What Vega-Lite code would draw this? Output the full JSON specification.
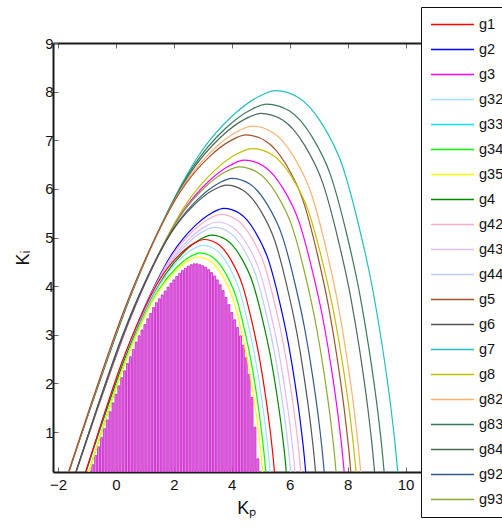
{
"$schema":"https://vega.github.io/schema/vega-lite/v6.json",
"autosize":{"type":"none"},
"padding":{"left":53,"top":43,"right":63,"bottom":57},
"width":386.5,
"height":429,
"config":{"view":{"stroke":null},"font":"Liberation Sans",
"axis":{"grid":false,"domainColor":"#1a1a1a","domainWidth":2,"tickColor":"#666","tickWidth":1,"tickSize":-5,"labelFontSize":15,"labelColor":"#111","titleFontSize":18,"titleFontWeight":"normal","titleColor":"#111"}},
"datasets":{
"bars":[
{"kp":-0.9,"ki":0.2},{"kp":-0.8,"ki":0.33},{"kp":-0.7,"ki":0.52},{"kp":-0.6,"ki":0.7},{"kp":-0.5,"ki":0.89},{"kp":-0.4,"ki":1.07},{"kp":-0.3,"ki":1.25},{"kp":-0.2,"ki":1.42},{"kp":-0.1,"ki":1.6},{"kp":0,"ki":1.78},{"kp":0.1,"ki":1.95},{"kp":0.2,"ki":2.12},{"kp":0.3,"ki":2.26},{"kp":0.4,"ki":2.41},{"kp":0.5,"ki":2.55},{"kp":0.6,"ki":2.7},{"kp":0.7,"ki":2.85},{"kp":0.8,"ki":2.98},{"kp":0.9,"ki":3.1},{"kp":1.0,"ki":3.21},{"kp":1.1,"ki":3.33},{"kp":1.2,"ki":3.44},{"kp":1.3,"ki":3.56},{"kp":1.4,"ki":3.66},{"kp":1.5,"ki":3.74},{"kp":1.6,"ki":3.82},{"kp":1.7,"ki":3.9},{"kp":1.8,"ki":3.98},{"kp":1.9,"ki":4.06},{"kp":2.0,"ki":4.13},{"kp":2.1,"ki":4.2},{"kp":2.2,"ki":4.26},{"kp":2.3,"ki":4.32},{"kp":2.4,"ki":4.37},{"kp":2.5,"ki":4.41},{"kp":2.6,"ki":4.44},{"kp":2.7,"ki":4.46},{"kp":2.8,"ki":4.46},{"kp":2.9,"ki":4.44},{"kp":3.0,"ki":4.42},{"kp":3.1,"ki":4.39},{"kp":3.2,"ki":4.34},{"kp":3.3,"ki":4.28},{"kp":3.4,"ki":4.21},{"kp":3.5,"ki":4.13},{"kp":3.6,"ki":4.03},{"kp":3.7,"ki":3.91},{"kp":3.8,"ki":3.77},{"kp":3.9,"ki":3.62},{"kp":4.0,"ki":3.46},{"kp":4.1,"ki":3.31},{"kp":4.2,"ki":3.15},{"kp":4.3,"ki":2.98},{"kp":4.4,"ki":2.79},{"kp":4.5,"ki":2.53},{"kp":4.6,"ki":2.19},{"kp":4.7,"ki":1.71},{"kp":4.8,"ki":1.1},{"kp":4.9,"ki":0.45}
],
"curves":[
{"s":"g7","kp":-1.73,"ki":0},{"s":"g7","kp":-0.581,"ki":2.005},{"s":"g7","kp":0.568,"ki":3.89},{"s":"g7","kp":1.717,"ki":5.454},{"s":"g7","kp":2.866,"ki":6.697},{"s":"g7","kp":4.015,"ki":7.499},{"s":"g7","kp":4.934,"ki":7.9},{"s":"g7","kp":5.509,"ki":8.02},{"s":"g7","kp":6.313,"ki":7.876},{"s":"g7","kp":7.117,"ki":7.338},{"s":"g7","kp":7.807,"ki":6.496},{"s":"g7","kp":8.381,"ki":5.253},{"s":"g7","kp":8.841,"ki":4.01},{"s":"g7","kp":9.186,"ki":2.807},{"s":"g7","kp":9.473,"ki":1.604},{"s":"g7","kp":9.645,"ki":0.722},{"s":"g7","kp":9.76,"ki":0},
{"s":"g83","kp":-1.73,"ki":0},{"s":"g83","kp":-0.628,"ki":1.936},{"s":"g83","kp":0.474,"ki":3.756},{"s":"g83","kp":1.576,"ki":5.267},{"s":"g83","kp":2.678,"ki":6.467},{"s":"g83","kp":3.78,"ki":7.242},{"s":"g83","kp":4.662,"ki":7.629},{"s":"g83","kp":5.213,"ki":7.745},{"s":"g83","kp":5.984,"ki":7.606},{"s":"g83","kp":6.755,"ki":7.087},{"s":"g83","kp":7.417,"ki":6.273},{"s":"g83","kp":7.968,"ki":5.073},{"s":"g83","kp":8.408,"ki":3.873},{"s":"g83","kp":8.739,"ki":2.711},{"s":"g83","kp":9.015,"ki":1.549},{"s":"g83","kp":9.18,"ki":0.697},{"s":"g83","kp":9.29,"ki":0},
{"s":"g84","kp":-1.73,"ki":0},{"s":"g84","kp":-0.661,"ki":1.888},{"s":"g84","kp":0.408,"ki":3.663},{"s":"g84","kp":1.477,"ki":5.136},{"s":"g84","kp":2.546,"ki":6.307},{"s":"g84","kp":3.615,"ki":7.062},{"s":"g84","kp":4.47,"ki":7.44},{"s":"g84","kp":5.005,"ki":7.553},{"s":"g84","kp":5.753,"ki":7.417},{"s":"g84","kp":6.501,"ki":6.911},{"s":"g84","kp":7.143,"ki":6.118},{"s":"g84","kp":7.677,"ki":4.947},{"s":"g84","kp":8.105,"ki":3.777},{"s":"g84","kp":8.426,"ki":2.644},{"s":"g84","kp":8.693,"ki":1.511},{"s":"g84","kp":8.853,"ki":0.68},{"s":"g84","kp":8.96,"ki":0},
{"s":"g82","kp":-1.73,"ki":0},{"s":"g82","kp":-0.709,"ki":1.823},{"s":"g82","kp":0.312,"ki":3.536},{"s":"g82","kp":1.333,"ki":4.957},{"s":"g82","kp":2.354,"ki":6.087},{"s":"g82","kp":3.375,"ki":6.816},{"s":"g82","kp":4.192,"ki":7.181},{"s":"g82","kp":4.702,"ki":7.29},{"s":"g82","kp":5.417,"ki":7.159},{"s":"g82","kp":6.132,"ki":6.67},{"s":"g82","kp":6.744,"ki":5.905},{"s":"g82","kp":7.255,"ki":4.775},{"s":"g82","kp":7.663,"ki":3.645},{"s":"g82","kp":7.97,"ki":2.552},{"s":"g82","kp":8.225,"ki":1.458},{"s":"g82","kp":8.378,"ki":0.656},{"s":"g82","kp":8.48,"ki":0},
{"s":"g5","kp":-1.73,"ki":0},{"s":"g5","kp":-0.743,"ki":1.778},{"s":"g5","kp":0.244,"ki":3.448},{"s":"g5","kp":1.231,"ki":4.835},{"s":"g5","kp":2.218,"ki":5.937},{"s":"g5","kp":3.205,"ki":6.648},{"s":"g5","kp":3.995,"ki":7.003},{"s":"g5","kp":4.488,"ki":7.11},{"s":"g5","kp":5.179,"ki":6.982},{"s":"g5","kp":5.87,"ki":6.506},{"s":"g5","kp":6.462,"ki":5.759},{"s":"g5","kp":6.956,"ki":4.657},{"s":"g5","kp":7.35,"ki":3.555},{"s":"g5","kp":7.647,"ki":2.489},{"s":"g5","kp":7.893,"ki":1.422},{"s":"g5","kp":8.041,"ki":0.64},{"s":"g5","kp":8.14,"ki":0},
{"s":"g8","kp":-1.48,"ki":0},{"s":"g8","kp":-0.5,"ki":1.708},{"s":"g8","kp":0.48,"ki":3.313},{"s":"g8","kp":1.46,"ki":4.644},{"s":"g8","kp":2.44,"ki":5.703},{"s":"g8","kp":3.42,"ki":6.386},{"s":"g8","kp":4.204,"ki":6.728},{"s":"g8","kp":4.694,"ki":6.83},{"s":"g8","kp":5.38,"ki":6.707},{"s":"g8","kp":6.066,"ki":6.249},{"s":"g8","kp":6.654,"ki":5.532},{"s":"g8","kp":7.144,"ki":4.474},{"s":"g8","kp":7.536,"ki":3.415},{"s":"g8","kp":7.83,"ki":2.391},{"s":"g8","kp":8.075,"ki":1.366},{"s":"g8","kp":8.222,"ki":0.615},{"s":"g8","kp":8.32,"ki":0},
{"s":"g3","kp":-1.48,"ki":0},{"s":"g3","kp":-0.541,"ki":1.648},{"s":"g3","kp":0.398,"ki":3.196},{"s":"g3","kp":1.337,"ki":4.481},{"s":"g3","kp":2.276,"ki":5.503},{"s":"g3","kp":3.215,"ki":6.162},{"s":"g3","kp":3.966,"ki":6.491},{"s":"g3","kp":4.436,"ki":6.59},{"s":"g3","kp":5.093,"ki":6.471},{"s":"g3","kp":5.75,"ki":6.03},{"s":"g3","kp":6.314,"ki":5.338},{"s":"g3","kp":6.783,"ki":4.316},{"s":"g3","kp":7.159,"ki":3.295},{"s":"g3","kp":7.441,"ki":2.307},{"s":"g3","kp":7.675,"ki":1.318},{"s":"g3","kp":7.816,"ki":0.593},{"s":"g3","kp":7.91,"ki":0},
{"s":"g93","kp":-1.48,"ki":0},{"s":"g93","kp":-0.569,"ki":1.614},{"s":"g93","kp":0.342,"ki":3.131},{"s":"g93","kp":1.253,"ki":4.389},{"s":"g93","kp":2.164,"ki":5.39},{"s":"g93","kp":3.075,"ki":6.035},{"s":"g93","kp":3.804,"ki":6.358},{"s":"g93","kp":4.259,"ki":6.455},{"s":"g93","kp":4.897,"ki":6.339},{"s":"g93","kp":5.535,"ki":5.906},{"s":"g93","kp":6.081,"ki":5.229},{"s":"g93","kp":6.537,"ki":4.228},{"s":"g93","kp":6.901,"ki":3.228},{"s":"g93","kp":7.175,"ki":2.259},{"s":"g93","kp":7.402,"ki":1.291},{"s":"g93","kp":7.539,"ki":0.581},{"s":"g93","kp":7.63,"ki":0},
{"s":"g92","kp":-1.48,"ki":0},{"s":"g92","kp":-0.61,"ki":1.554},{"s":"g92","kp":0.26,"ki":3.015},{"s":"g92","kp":1.13,"ki":4.227},{"s":"g92","kp":2.0,"ki":5.19},{"s":"g92","kp":2.87,"ki":5.812},{"s":"g92","kp":3.566,"ki":6.123},{"s":"g92","kp":4.001,"ki":6.216},{"s":"g92","kp":4.61,"ki":6.104},{"s":"g92","kp":5.219,"ki":5.688},{"s":"g92","kp":5.741,"ki":5.035},{"s":"g92","kp":6.176,"ki":4.071},{"s":"g92","kp":6.524,"ki":3.108},{"s":"g92","kp":6.785,"ki":2.176},{"s":"g92","kp":7.003,"ki":1.243},{"s":"g92","kp":7.133,"ki":0.559},{"s":"g92","kp":7.22,"ki":0},
{"s":"g6","kp":-1.48,"ki":0},{"s":"g6","kp":-0.64,"ki":1.52},{"s":"g6","kp":0.2,"ki":2.948},{"s":"g6","kp":1.04,"ki":4.133},{"s":"g6","kp":1.88,"ki":5.075},{"s":"g6","kp":2.72,"ki":5.683},{"s":"g6","kp":3.392,"ki":5.987},{"s":"g6","kp":3.812,"ki":6.078},{"s":"g6","kp":4.4,"ki":5.969},{"s":"g6","kp":4.988,"ki":5.561},{"s":"g6","kp":5.492,"ki":4.923},{"s":"g6","kp":5.912,"ki":3.981},{"s":"g6","kp":6.248,"ki":3.039},{"s":"g6","kp":6.5,"ki":2.127},{"s":"g6","kp":6.71,"ki":1.216},{"s":"g6","kp":6.836,"ki":0.547},{"s":"g6","kp":6.92,"ki":0},
{"s":"g2","kp":-1.14,"ki":0},{"s":"g2","kp":-0.368,"ki":1.4},{"s":"g2","kp":0.404,"ki":2.716},{"s":"g2","kp":1.176,"ki":3.808},{"s":"g2","kp":1.948,"ki":4.676},{"s":"g2","kp":2.72,"ki":5.236},{"s":"g2","kp":3.338,"ki":5.516},{"s":"g2","kp":3.724,"ki":5.6},{"s":"g2","kp":4.264,"ki":5.499},{"s":"g2","kp":4.804,"ki":5.124},{"s":"g2","kp":5.268,"ki":4.536},{"s":"g2","kp":5.654,"ki":3.668},{"s":"g2","kp":5.962,"ki":2.8},{"s":"g2","kp":6.194,"ki":1.96},{"s":"g2","kp":6.387,"ki":1.12},{"s":"g2","kp":6.503,"ki":0.504},{"s":"g2","kp":6.58,"ki":0},
{"s":"g42","kp":-1.14,"ki":0},{"s":"g42","kp":-0.385,"ki":1.369},{"s":"g42","kp":0.37,"ki":2.655},{"s":"g42","kp":1.125,"ki":3.723},{"s":"g42","kp":1.88,"ki":4.572},{"s":"g42","kp":2.635,"ki":5.119},{"s":"g42","kp":3.239,"ki":5.393},{"s":"g42","kp":3.617,"ki":5.475},{"s":"g42","kp":4.145,"ki":5.376},{"s":"g42","kp":4.674,"ki":5.01},{"s":"g42","kp":5.127,"ki":4.435},{"s":"g42","kp":5.504,"ki":3.586},{"s":"g42","kp":5.806,"ki":2.738},{"s":"g42","kp":6.033,"ki":1.916},{"s":"g42","kp":6.221,"ki":1.095},{"s":"g42","kp":6.335,"ki":0.493},{"s":"g42","kp":6.41,"ki":0},
{"s":"g43","kp":-1.14,"ki":0},{"s":"g43","kp":-0.405,"ki":1.33},{"s":"g43","kp":0.33,"ki":2.58},{"s":"g43","kp":1.065,"ki":3.618},{"s":"g43","kp":1.8,"ki":4.442},{"s":"g43","kp":2.535,"ki":4.974},{"s":"g43","kp":3.123,"ki":5.24},{"s":"g43","kp":3.491,"ki":5.32},{"s":"g43","kp":4.005,"ki":5.224},{"s":"g43","kp":4.52,"ki":4.868},{"s":"g43","kp":4.961,"ki":4.309},{"s":"g43","kp":5.328,"ki":3.485},{"s":"g43","kp":5.622,"ki":2.66},{"s":"g43","kp":5.843,"ki":1.862},{"s":"g43","kp":6.026,"ki":1.064},{"s":"g43","kp":6.137,"ki":0.479},{"s":"g43","kp":6.21,"ki":0},
{"s":"g44","kp":-1.14,"ki":0},{"s":"g44","kp":-0.42,"ki":1.303},{"s":"g44","kp":0.3,"ki":2.527},{"s":"g44","kp":1.02,"ki":3.543},{"s":"g44","kp":1.74,"ki":4.35},{"s":"g44","kp":2.46,"ki":4.871},{"s":"g44","kp":3.036,"ki":5.132},{"s":"g44","kp":3.396,"ki":5.21},{"s":"g44","kp":3.9,"ki":5.116},{"s":"g44","kp":4.404,"ki":4.767},{"s":"g44","kp":4.836,"ki":4.22},{"s":"g44","kp":5.196,"ki":3.413},{"s":"g44","kp":5.484,"ki":2.605},{"s":"g44","kp":5.7,"ki":1.824},{"s":"g44","kp":5.88,"ki":1.042},{"s":"g44","kp":5.988,"ki":0.469},{"s":"g44","kp":6.06,"ki":0},
{"s":"g4","kp":-1.14,"ki":0},{"s":"g4","kp":-0.435,"ki":1.263},{"s":"g4","kp":0.27,"ki":2.449},{"s":"g4","kp":0.975,"ki":3.434},{"s":"g4","kp":1.68,"ki":4.217},{"s":"g4","kp":2.385,"ki":4.722},{"s":"g4","kp":2.949,"ki":4.974},{"s":"g4","kp":3.302,"ki":5.05},{"s":"g4","kp":3.795,"ki":4.959},{"s":"g4","kp":4.289,"ki":4.621},{"s":"g4","kp":4.712,"ki":4.091},{"s":"g4","kp":5.064,"ki":3.308},{"s":"g4","kp":5.346,"ki":2.525},{"s":"g4","kp":5.558,"ki":1.768},{"s":"g4","kp":5.734,"ki":1.01},{"s":"g4","kp":5.84,"ki":0.455},{"s":"g4","kp":5.91,"ki":0},
{"s":"g1","kp":-1.14,"ki":0},{"s":"g1","kp":-0.476,"ki":1.24},{"s":"g1","kp":0.188,"ki":2.406},{"s":"g1","kp":0.852,"ki":3.373},{"s":"g1","kp":1.516,"ki":4.142},{"s":"g1","kp":2.18,"ki":4.638},{"s":"g1","kp":2.711,"ki":4.886},{"s":"g1","kp":3.043,"ki":4.96},{"s":"g1","kp":3.508,"ki":4.871},{"s":"g1","kp":3.973,"ki":4.538},{"s":"g1","kp":4.371,"ki":4.018},{"s":"g1","kp":4.703,"ki":3.249},{"s":"g1","kp":4.969,"ki":2.48},{"s":"g1","kp":5.168,"ki":1.736},{"s":"g1","kp":5.334,"ki":0.992},{"s":"g1","kp":5.434,"ki":0.446},{"s":"g1","kp":5.5,"ki":0},
{"s":"g32","kp":-1.03,"ki":0},{"s":"g32","kp":-0.392,"ki":1.21},{"s":"g32","kp":0.246,"ki":2.347},{"s":"g32","kp":0.884,"ki":3.291},{"s":"g32","kp":1.522,"ki":4.041},{"s":"g32","kp":2.16,"ki":4.525},{"s":"g32","kp":2.67,"ki":4.767},{"s":"g32","kp":2.989,"ki":4.84},{"s":"g32","kp":3.436,"ki":4.753},{"s":"g32","kp":3.883,"ki":4.429},{"s":"g32","kp":4.265,"ki":3.92},{"s":"g32","kp":4.584,"ki":3.17},{"s":"g32","kp":4.84,"ki":2.42},{"s":"g32","kp":5.031,"ki":1.694},{"s":"g32","kp":5.191,"ki":0.968},{"s":"g32","kp":5.286,"ki":0.436},{"s":"g32","kp":5.35,"ki":0},
{"s":"g34","kp":-1.03,"ki":0},{"s":"g34","kp":-0.407,"ki":1.171},{"s":"g34","kp":0.216,"ki":2.272},{"s":"g34","kp":0.839,"ki":3.186},{"s":"g34","kp":1.462,"ki":3.912},{"s":"g34","kp":2.085,"ki":4.38},{"s":"g34","kp":2.583,"ki":4.615},{"s":"g34","kp":2.895,"ki":4.685},{"s":"g34","kp":3.331,"ki":4.601},{"s":"g34","kp":3.767,"ki":4.287},{"s":"g34","kp":4.141,"ki":3.795},{"s":"g34","kp":4.452,"ki":3.069},{"s":"g34","kp":4.702,"ki":2.343},{"s":"g34","kp":4.889,"ki":1.64},{"s":"g34","kp":5.044,"ki":0.937},{"s":"g34","kp":5.138,"ki":0.422},{"s":"g34","kp":5.2,"ki":0},
{"s":"g35","kp":-1.03,"ki":0},{"s":"g35","kp":-0.418,"ki":1.15},{"s":"g35","kp":0.194,"ki":2.231},{"s":"g35","kp":0.806,"ki":3.128},{"s":"g35","kp":1.418,"ki":3.841},{"s":"g35","kp":2.03,"ki":4.301},{"s":"g35","kp":2.52,"ki":4.531},{"s":"g35","kp":2.826,"ki":4.6},{"s":"g35","kp":3.254,"ki":4.517},{"s":"g35","kp":3.682,"ki":4.209},{"s":"g35","kp":4.05,"ki":3.726},{"s":"g35","kp":4.356,"ki":3.013},{"s":"g35","kp":4.6,"ki":2.3},{"s":"g35","kp":4.784,"ki":1.61},{"s":"g35","kp":4.937,"ki":0.92},{"s":"g35","kp":5.029,"ki":0.414},{"s":"g35","kp":5.09,"ki":0}
]},
"layer":[
{"data":{"name":"bars"},
"mark":{"type":"bar","width":2.0,"fill":"#dd88dd","stroke":"#cc00cc","strokeWidth":0.7,"clip":true},
"encoding":{
"x":{"field":"kp","type":"quantitative","scale":{"domain":[-2,11],"nice":false,"zero":false},"axis":{"orient":"top","labels":false,"title":null,"values":[-2,0,2,4,6,8,10]}},
"y":{"field":"ki","type":"quantitative","scale":{"domain":[0.18,9],"nice":false,"zero":false},"axis":{"values":[1,2,3,4,5,6,7,8,9],"title":"Kᵢ","labelPadding":5,"titlePadding":12}}}},
{"data":{"name":"curves"},
"mark":{"type":"line","strokeWidth":1.2,"clip":true,"interpolate":"monotone"},
"encoding":{
"x":{"field":"kp","type":"quantitative","axis":{"orient":"bottom","title":"Kₚ","values":[-2,0,2,4,6,8,10],"labelPadding":10,"titlePadding":7}},
"y":{"field":"ki","type":"quantitative","axis":{"values":[1,2,3,4,5,6,7,8,9],"title":"Kᵢ","labelPadding":5,"titlePadding":12}},
"color":{"field":"s","type":"nominal",
"scale":{"domain":["g1","g2","g3","g32","g33","g34","g35","g4","g42","g43","g44","g5","g6","g7","g8","g82","g83","g84","g92","g93"],
"range":["#ff0000","#0000ff","#ff00ff","#a0e0ff","#00e5ee","#00ff00","#ffff00","#008800","#ffaacc","#ddbbff","#bbccff","#a0522d","#555555","#20c0c0","#c0c000","#ffb070","#3a7a5a","#4a6a5a","#305a8a","#88aa30"]},
"legend":{"orient":"none","legendX":368,"legendY":-36,"title":null,"symbolType":"stroke","symbolSize":1849,"symbolStrokeWidth":1.5,"clipHeight":25,"rowPadding":0,"padding":5,"symbolOffset":4,"labelOffset":4,"labelFont":"Liberation Sans","labelFontSize":14.5,"labelColor":"#111","strokeColor":"#111","fillColor":"white","labelLimit":0}}}}
],
"resolve":{"axis":{"x":"independent"}}
}
